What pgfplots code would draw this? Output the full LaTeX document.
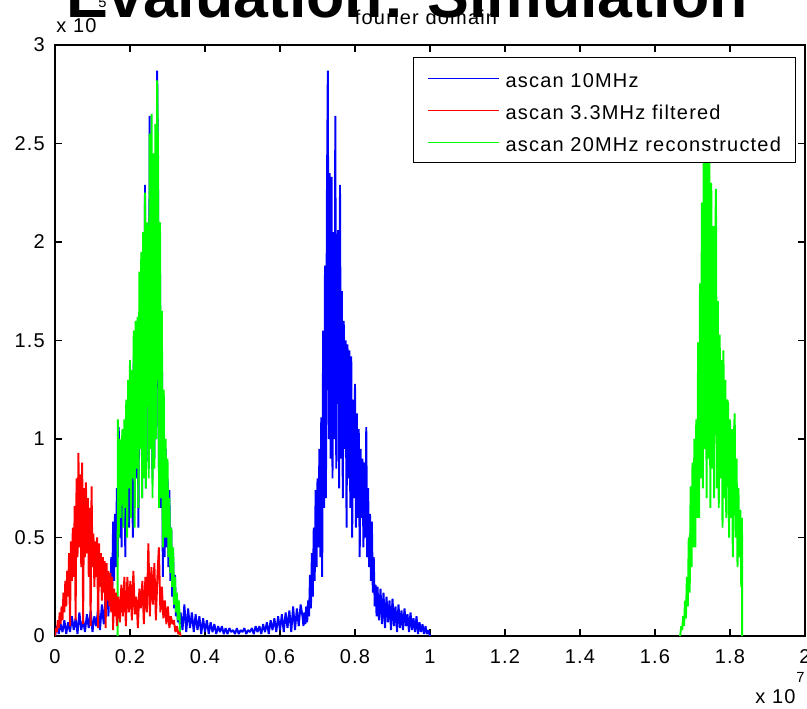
\documentclass[border=0pt]{standalone}
\usepackage{fontspec}
\usepackage{pgfplots}
\usepackage{pgfplotstable}
\pgfplotsset{compat=1.18}
\setmainfont{Liberation Sans}
\newfontfamily\lfont[LetterSpace=6]{Liberation Sans}
\newcommand\lab{\lfont\fontsize{15}{18}\selectfont}
\definecolor{mblue}{RGB}{0,0,255}
\definecolor{mred}{RGB}{255,0,0}
\definecolor{mgreen}{RGB}{0,255,0}

\pgfplotstableread{
x y
0.000 0.00
0.005 0.05
0.010 0.01
0.015 0.06
0.020 0.02
0.025 0.08
0.030 0.01
0.035 0.07
0.040 0.02
0.045 0.10
0.050 0.03
0.055 0.09
0.060 0.01
0.065 0.12
0.070 0.03
0.075 0.08
0.080 0.02
0.085 0.11
0.090 0.04
0.095 0.13
0.100 0.02
0.105 0.10
0.110 0.05
0.115 0.14
0.120 0.03
0.125 0.16
0.130 0.06
0.135 0.20
0.1400 0.25
0.1425 0.10
0.1450 0.26
0.1475 0.15
0.1500 0.40
0.1525 0.22
0.1550 0.58
0.1575 0.28
0.1600 0.62
0.1625 0.35
0.1650 0.75
0.1675 0.40
0.1700 1.06
0.1725 0.50
0.1750 0.88
0.1775 0.45
0.1800 0.90
0.1825 0.60
0.1850 0.95
0.1875 0.40
0.1900 1.05
0.1925 0.60
0.1950 1.13
0.1975 0.55
0.2000 1.28
0.2025 0.70
0.2050 1.20
0.2075 0.50
0.2100 1.42
0.2125 0.65
0.2150 1.45
0.2175 0.80
0.2200 1.48
0.2225 0.55
0.2250 1.50
0.2275 0.95
0.2300 1.60
0.2325 0.70
0.2350 1.75
0.2375 0.90
0.2400 2.29
0.2425 0.75
0.2450 2.06
0.2475 1.95
0.2500 0.85
0.2525 2.64
0.2550 1.00
0.2575 2.05
0.2600 0.80
0.2625 2.33
0.2650 0.90
0.2675 2.35
0.2700 1.00
0.2725 2.87
0.2750 2.20
0.2775 0.70
0.2800 1.88
0.2825 0.65
0.2850 1.55
0.2875 0.30
0.2900 1.11
0.2925 0.40
0.2950 0.95
0.2975 0.45
0.3000 0.80
0.3025 0.35
0.3050 0.74
0.3075 0.28
0.3100 0.55
0.3125 0.20
0.3150 0.42
0.3175 0.14
0.3200 0.31
0.3225 0.10
0.3250 0.18
0.3275 0.07
0.3300 0.15
0.3325 0.06
0.3350 0.12
0.340 0.03
0.345 0.16
0.350 0.02
0.355 0.14
0.360 0.04
0.365 0.12
0.370 0.02
0.375 0.11
0.380 0.03
0.385 0.10
0.390 0.01
0.395 0.09
0.400 0.02
0.405 0.08
0.410 0.01
0.415 0.07
0.420 0.02
0.425 0.06
0.430 0.01
0.435 0.05
0.440 0.02
0.445 0.05
0.450 0.01
0.455 0.04
0.460 0.01
0.465 0.04
0.470 0.02
0.475 0.03
0.480 0.01
0.485 0.04
0.490 0.01
0.495 0.03
0.500 0.02
0.505 0.04
0.510 0.01
0.515 0.03
0.520 0.02
0.525 0.04
0.530 0.01
0.535 0.05
0.540 0.02
0.545 0.05
0.550 0.01
0.555 0.06
0.560 0.02
0.565 0.07
0.570 0.01
0.575 0.08
0.580 0.03
0.585 0.09
0.590 0.02
0.595 0.10
0.600 0.03
0.605 0.11
0.610 0.02
0.615 0.12
0.620 0.04
0.625 0.13
0.630 0.02
0.635 0.15
0.640 0.03
0.645 0.14
0.650 0.05
0.655 0.16
0.6600 0.10
0.6625 0.05
0.6650 0.12
0.6675 0.06
0.6700 0.15
0.6725 0.07
0.6750 0.18
0.6775 0.10
0.6800 0.31
0.6825 0.14
0.6850 0.42
0.6875 0.20
0.6900 0.55
0.6925 0.28
0.6950 0.74
0.6975 0.35
0.7000 0.80
0.7025 0.45
0.7050 0.95
0.7075 0.40
0.7100 1.11
0.7125 0.30
0.7150 1.55
0.7175 0.65
0.7200 1.88
0.7225 0.70
0.7250 2.20
0.7275 2.87
0.7300 1.00
0.7325 2.35
0.7350 0.90
0.7375 2.33
0.7400 0.80
0.7425 2.05
0.7450 1.00
0.7475 2.64
0.7500 0.85
0.7525 1.95
0.7550 2.06
0.7575 0.75
0.7600 2.29
0.7625 0.90
0.7650 1.75
0.7675 0.70
0.7700 1.60
0.7725 0.95
0.7750 1.50
0.7775 0.55
0.7800 1.48
0.7825 0.80
0.7850 1.45
0.7875 0.65
0.7900 1.42
0.7925 0.50
0.7950 1.20
0.7975 0.70
0.8000 1.28
0.8025 0.55
0.8050 1.13
0.8075 0.60
0.8100 1.05
0.8125 0.40
0.8150 0.95
0.8175 0.60
0.8200 0.90
0.8225 0.45
0.8250 0.88
0.8275 0.50
0.8300 1.06
0.8325 0.40
0.8350 0.75
0.8375 0.35
0.8400 0.62
0.8425 0.28
0.8450 0.58
0.8475 0.22
0.8500 0.40
0.8525 0.15
0.8550 0.26
0.8575 0.10
0.8600 0.25
0.864 0.08
0.868 0.24
0.872 0.06
0.876 0.22
0.880 0.04
0.884 0.20
0.888 0.07
0.892 0.18
0.896 0.03
0.900 0.19
0.904 0.05
0.908 0.15
0.912 0.02
0.916 0.16
0.920 0.04
0.924 0.13
0.928 0.03
0.932 0.14
0.936 0.05
0.940 0.11
0.944 0.02
0.948 0.12
0.952 0.03
0.956 0.09
0.960 0.02
0.964 0.10
0.968 0.01
0.972 0.07
0.976 0.02
0.980 0.06
0.984 0.01
0.988 0.05
0.992 0.01
0.996 0.03
1.000 0.00
}\bluetab

\pgfplotstableread{
x y
0.0000 0.00
0.0025 0.04
0.0050 0.02
0.0075 0.08
0.0100 0.04
0.0125 0.12
0.0150 0.06
0.0175 0.15
0.0200 0.08
0.0225 0.22
0.0250 0.12
0.0275 0.28
0.0300 0.15
0.0325 0.33
0.0350 0.20
0.0375 0.42
0.0400 0.05
0.0425 0.48
0.0450 0.28
0.0475 0.55
0.0500 0.30
0.0525 0.66
0.0550 0.08
0.0575 0.80
0.0600 0.40
0.0625 0.93
0.0650 0.45
0.0675 0.82
0.0700 0.35
0.0725 0.88
0.0750 0.06
0.0775 0.75
0.0800 0.40
0.0825 0.78
0.0850 0.42
0.0875 0.70
0.0900 0.30
0.0925 0.65
0.0950 0.05
0.0975 0.76
0.1000 0.35
0.1025 0.52
0.1050 0.25
0.1075 0.48
0.1100 0.30
0.1125 0.50
0.1150 0.04
0.1175 0.47
0.1200 0.25
0.1225 0.42
0.1250 0.18
0.1275 0.40
0.1300 0.22
0.1325 0.38
0.1350 0.04
0.1375 0.37
0.1400 0.18
0.1425 0.33
0.1450 0.15
0.1475 0.32
0.1500 0.12
0.1525 0.30
0.1550 0.03
0.1575 0.24
0.1600 0.10
0.1625 0.22
0.1650 0.05
0.169 0.20
0.173 0.07
0.177 0.26
0.181 0.10
0.185 0.30
0.189 0.05
0.193 0.30
0.197 0.12
0.201 0.28
0.205 0.08
0.209 0.33
0.213 0.11
0.217 0.20
0.221 0.04
0.225 0.24
0.229 0.14
0.233 0.28
0.237 0.06
0.241 0.30
0.245 0.12
0.249 0.47
0.253 0.10
0.257 0.35
0.261 0.16
0.265 0.37
0.269 0.08
0.273 0.30
0.277 0.45
0.281 0.12
0.285 0.25
0.289 0.09
0.293 0.18
0.297 0.06
0.301 0.15
0.305 0.04
0.309 0.10
0.313 0.06
0.317 0.08
0.321 0.02
0.325 0.05
0.329 0.01
0.333 0.02
0.335 0.00
}\redtab

\pgfplotstableread{
x y
0.1670 0.00
0.1675 1.10
0.1700 0.50
0.1725 1.00
0.1750 0.60
0.1775 0.95
0.1800 1.05
0.1825 0.55
0.1850 1.10
0.1875 0.65
0.1900 1.20
0.1925 0.50
0.1950 1.30
0.1975 0.75
0.2000 1.40
0.2025 0.60
0.2050 1.35
0.2075 0.80
0.2100 1.55
0.2125 0.55
0.2150 1.60
0.2175 0.85
0.2200 1.62
0.2225 0.65
0.2250 1.85
0.2275 0.95
0.2300 1.95
0.2325 0.70
0.2350 2.05
0.2375 0.80
0.2400 2.25
0.2425 0.75
0.2450 2.10
0.2475 2.00
0.2500 0.80
0.2525 2.55
0.2550 0.95
0.2575 2.65
0.2600 0.70
0.2625 2.45
0.2650 0.85
0.2675 2.60
0.2700 1.00
0.2725 2.82
0.2750 2.40
0.2775 0.65
0.2800 2.10
0.2825 0.70
0.2850 1.65
0.2875 0.45
0.2900 1.25
0.2925 0.50
0.2950 1.00
0.2975 0.50
0.3000 0.90
0.3025 0.40
0.3050 0.70
0.3075 0.32
0.3100 0.55
0.3125 0.25
0.3150 0.45
0.3175 0.16
0.3200 0.30
0.3225 0.12
0.3250 0.22
0.3275 0.08
0.3300 0.18
0.3325 0.10
0.3330 0.00
}\greenL

\pgfplotstableread{
x y
1.6670 0.00
1.6700 0.05
1.6725 0.03
1.6750 0.10
1.6775 0.05
1.6800 0.18
1.6825 0.09
1.6850 0.30
1.6875 0.15
1.6900 0.50
1.6925 0.22
1.6950 0.76
1.6975 0.35
1.7000 0.88
1.7025 0.45
1.7050 1.00
1.7075 0.45
1.7100 1.10
1.7125 0.60
1.7150 1.49
1.7175 0.60
1.7200 1.79
1.7225 0.80
1.7250 2.20
1.7275 0.75
1.7300 2.85
1.7325 0.95
1.7350 2.45
1.7375 0.70
1.7400 2.40
1.7425 0.90
1.7450 2.60
1.7475 0.65
1.7500 2.30
1.7525 0.85
1.7550 2.08
1.7575 0.70
1.7600 1.90
1.7625 2.27
1.7650 0.75
1.7675 1.70
1.7700 0.65
1.7725 1.53
1.7750 0.80
1.7775 1.40
1.7800 0.55
1.7825 1.45
1.7850 0.70
1.7875 1.30
1.7900 0.60
1.7925 1.20
1.7950 1.18
1.7975 0.50
1.8000 1.10
1.8025 0.60
1.8050 1.05
1.8075 0.40
1.8100 1.00
1.8125 1.13
1.8150 0.50
1.8175 0.90
1.8200 0.35
1.8225 0.75
1.8250 0.40
1.8275 0.64
1.8300 0.25
1.8320 0.60
1.8325 0.00
}\greenR

\begin{document}
\begin{tikzpicture}
\useasboundingbox (0,0) rectangle (605.25pt,531pt);
\begin{axis}[
  at={(41.25pt,54pt)}, anchor=south west,
  scale only axis, width=562.5pt, height=443.25pt,
  xmin=0, xmax=2, ymin=0, ymax=3,
  xtick={0,0.2,0.4,0.6,0.8,1,1.2,1.4,1.6,1.8,2},
  xticklabels={0,0.2,0.4,0.6,0.8,1,1.2,1.4,1.6,1.8,2},
  ytick={0,0.5,1,1.5,2,2.5,3},
  yticklabels={0,0.5,1,1.5,2,2.5,3},
  scaled ticks=false,
  tick align=inside, tick pos=both, ticklabel pos=left,
  major tick length=5.25pt,
  axis line style={line width=0.8pt, black},
  tick style={line width=0.8pt, black},
  ticklabel style={font=\lab},
  xticklabel style={anchor=base, inner sep=0pt, yshift=-20.25pt},
  yticklabel style={anchor=east, inner sep=0pt, xshift=-7.5pt},
  legend style={at={(0.988,0.9797)}, anchor=north east, draw=black,
    line width=0.75pt, fill=white, font=\lab,
    inner xsep=10.9pt, inner ysep=8.25pt, row sep=9.5pt, column sep=4.5pt,
    nodes={inner sep=0pt, text height=14.5pt, text depth=0pt}},
  legend cell align=left,
  legend image code/.code={\draw[#1, line width=0.75pt] (0pt,0pt) -- (53.25pt,0pt);},
  every axis plot/.append style={line width=1.45pt, line join=bevel},
]
\addplot[mblue, forget plot] table {\bluetab};
\addplot[mgreen, forget plot] table {\greenL};
\addplot[mgreen, forget plot] table {\greenR};
\addplot[mred, forget plot] table {\redtab};
\addlegendimage{mblue}\addlegendentry{ascan 10MHz}
\addlegendimage{mred}\addlegendentry{ascan 3.3MHz filtered}
\addlegendimage{mgreen}\addlegendentry{ascan 20MHz reconstructed}
\end{axis}
\begin{scope}[x=0.75pt,y=0.75pt]
\node[anchor=base, inner sep=0pt, font=\lab] at (426,683) {fourier domain};
\node[anchor=base west, inner sep=0pt, font=\lab] at (56,675) {x 10};
\node[anchor=base west, inner sep=0pt, font=\lfont\fontsize{11}{13}\selectfont] at (98,700) {5};
\node[anchor=base west, inner sep=0pt, font=\lab] at (755,5) {x 10};
\node[anchor=base west, inner sep=0pt, font=\lfont\fontsize{11}{13}\selectfont] at (796,26) {7};
\node[anchor=base, inner sep=0pt, font=\bfseries\fontsize{47}{50}\selectfont] at (407,690.5) {Evaluation: Simulation};
\end{scope}
\end{tikzpicture}
\end{document}
